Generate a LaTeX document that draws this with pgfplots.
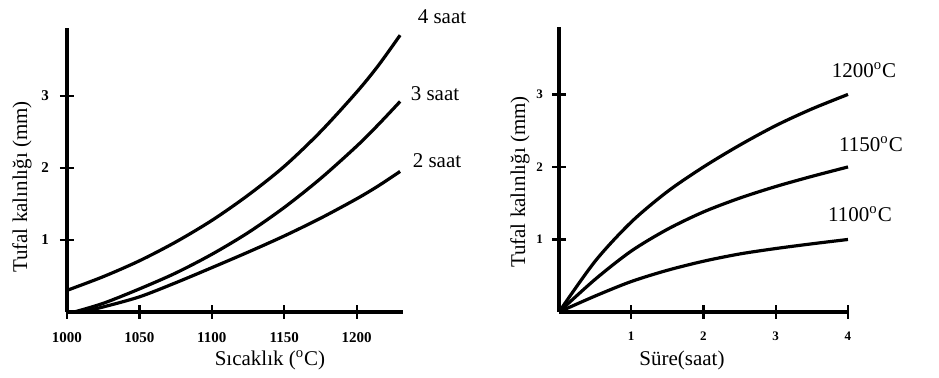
\documentclass[border=0pt]{standalone}
\usepackage{pgfplots}
\pgfplotsset{compat=1.18}
\usepackage{fontspec}
\setmainfont{Liberation Serif}
\begin{document}
\begin{tikzpicture}
\path[use as bounding box] (0pt,0pt) rectangle (469.5pt,189pt);
\pgfplotsset{
  myax/.style={
    anchor=origin, scale only axis,
    axis lines=left, axis line style={-, line width=1.6pt, black},
    every outer x axis line/.append style={line width=1.6pt},
    every outer y axis line/.append style={line width=1.6pt},
    tick align=center, major tick length=7pt,
    xtick style={line width=1.1pt, black},
    ytick style={line width=1.1pt, black},
    ymin=0, clip=false,
    /pgf/number format/assume math mode=true,
    /pgf/number format/set thousands separator={},
  },
  crv/.style={black, line width=1.6pt, smooth, no markers},
}
% Left plot
\begin{axis}[myax, at={(33.5pt,33pt)}, width=168pt, height=142pt,
  xmin=1000, xmax=1232, ymax=3.94,
  xtick={1000,1050,1100,1150,1200}, ytick={1,2,3},
  ticklabel style={font=\fontsize{7.5}{8}\selectfont\bfseries},
  xticklabel style={yshift=-3pt}, yticklabel style={xshift=-2pt}]
\addplot[crv] coordinates {(1000,0.3)(1025,0.49)(1050,0.71)(1075,0.97)(1100,1.27)(1125,1.62)(1150,2.02)(1175,2.5)(1200,3.05)(1215,3.42)(1230,3.84)};
\addplot[crv] coordinates {(1005,0)(1025,0.12)(1050,0.32)(1075,0.54)(1100,0.8)(1125,1.1)(1150,1.45)(1175,1.85)(1200,2.3)(1215,2.6)(1230,2.92)};
\addplot[crv] coordinates {(1010,0)(1025,0.07)(1050,0.21)(1075,0.405)(1100,0.615)(1125,0.83)(1150,1.055)(1175,1.3)(1200,1.57)(1215,1.75)(1230,1.95)};
\end{axis}
% Right plot
\begin{axis}[myax, at={(279.5pt,33pt)}, width=144.5pt, height=142.5pt,
  xmin=0, xmax=4, ymax=3.93,
  xtick={1,2,3,4}, ytick={1,2,3},
  ticklabel style={font=\fontsize{6.5}{7}\selectfont\bfseries},
  xticklabel style={yshift=-3pt}, yticklabel style={xshift=-1pt}]
\addplot[crv] coordinates {(0,0)(0.5,0.7)(1,1.24)(1.5,1.66)(2,2.0)(2.5,2.3)(3,2.57)(3.5,2.8)(4,3.0)};
\addplot[crv] coordinates {(0,0)(0.5,0.45)(1,0.84)(1.5,1.14)(2,1.38)(2.5,1.57)(3,1.73)(3.5,1.87)(4,2.0)};
\addplot[crv] coordinates {(0,0)(0.5,0.22)(1,0.42)(1.5,0.575)(2,0.7)(2.5,0.8)(3,0.875)(3.5,0.94)(4,1.0)};
\end{axis}
\begin{scope}[every node/.style={font=\fontsize{10.5}{12}\selectfont, inner sep=0pt}]
\node[rotate=90] at (11pt,95.5pt) {Tufal kalınlığı (mm)};
\node at (135pt,9pt) {Sıcaklık (\textsuperscript{o}C)};
\node at (221pt,180.5pt) {4 saat};
\node at (217.5pt,142pt) {3 saat};
\node at (218.5pt,108.5pt) {2 saat};
\node[rotate=90] at (260pt,98pt) {Tufal kalınlığı (mm)};
\node at (341pt,9pt) {Süre(saat)};
\node at (432pt,154pt) {1200\textsuperscript{o}C};
\node at (435.5pt,117pt) {1150\textsuperscript{o}C};
\node at (430pt,82pt) {1100\textsuperscript{o}C};
\end{scope}
\end{tikzpicture}
\end{document}
